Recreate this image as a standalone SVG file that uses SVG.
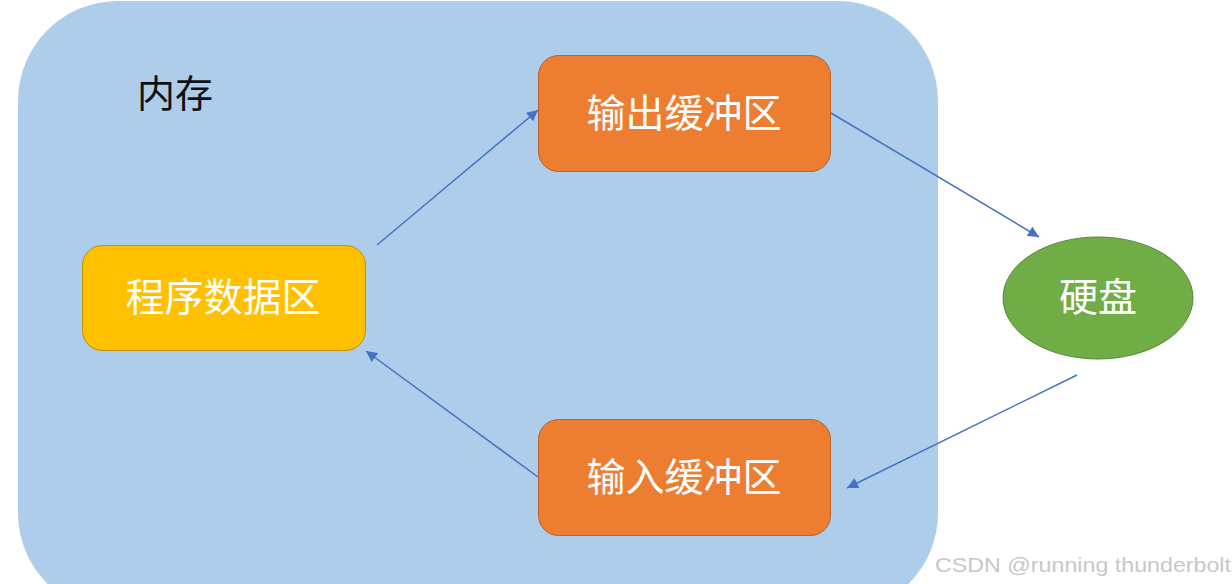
<svg xmlns="http://www.w3.org/2000/svg" width="1232" height="584" viewBox="0 0 1232 584">
<style>
.cjk{font-family:"Noto Sans CJK SC","Noto Sans",sans-serif;font-size:38px;text-anchor:middle}
.w{fill:#ffffff;font-size:39px}
.conn{stroke:#4472C4;stroke-width:1.5;fill:none;marker-end:url(#ah)}
</style>
<defs>
<marker id="ah" viewBox="0 0 10 10" refX="10" refY="5" markerWidth="12" markerHeight="11" markerUnits="userSpaceOnUse" orient="auto">
<path d="M0,0 L10,5 L0,10 z" fill="#4472C4"/>
</marker>
</defs>
<rect width="1232" height="584" fill="#ffffff"/>
<g id="memory">
<rect x="18" y="1" width="920" height="612" rx="100" ry="100" fill="#AECDEA"/>
<text x="175" y="107" class="cjk" fill="#111111">内存</text>
</g>
<g id="output-buffer">
<rect x="538.5" y="55.5" width="292" height="116" rx="20" fill="#ED7D31" stroke="#B8612A" stroke-width="1"/>
<text x="684" y="127" class="cjk w">输出缓冲区</text>
</g>
<g id="program-data">
<rect x="82.5" y="245.5" width="283" height="105" rx="20" fill="#FFC000" stroke="#BF9000" stroke-width="1"/>
<text x="223" y="311" class="cjk w">程序数据区</text>
</g>
<g id="input-buffer">
<rect x="538.5" y="419.5" width="292" height="116" rx="20" fill="#ED7D31" stroke="#B8612A" stroke-width="1"/>
<text x="684" y="491" class="cjk w">输入缓冲区</text>
</g>
<g id="hard-disk">
<ellipse cx="1098" cy="298" rx="95" ry="61" fill="#70AD47" stroke="#558A35" stroke-width="1"/>
<text x="1098" y="311" class="cjk w">硬盘</text>
</g>
<g id="connectors">
<line x1="377" y1="245" x2="538" y2="110" class="conn"/>
<line x1="831" y1="113" x2="1039" y2="237" class="conn"/>
<line x1="1077" y1="375" x2="847" y2="488" class="conn"/>
<line x1="538" y1="477" x2="366" y2="351" class="conn"/>
</g>
<text x="935" y="572" font-family="Liberation Sans, Arial, sans-serif" font-size="21" fill="#C8C8C8" textLength="296" lengthAdjust="spacingAndGlyphs">CSDN @running thunderbolt</text>
</svg>
